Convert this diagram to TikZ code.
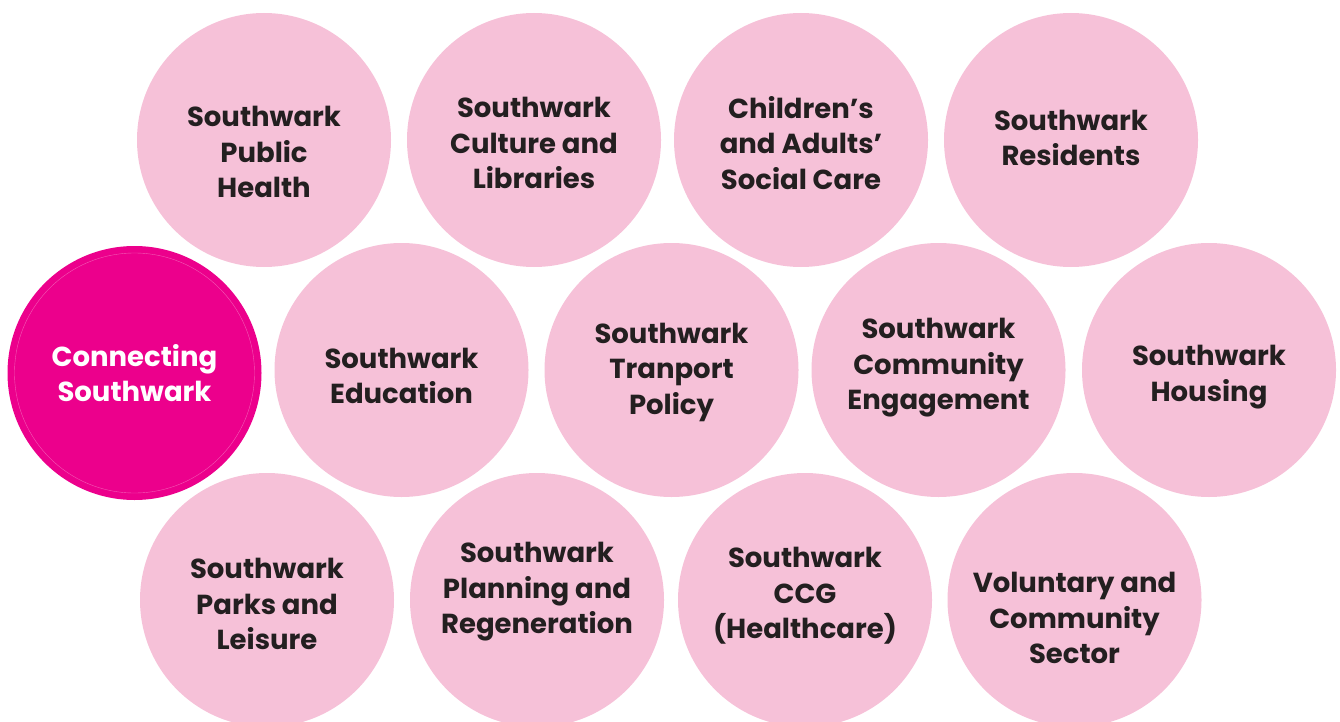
\documentclass[tikz,border=0pt]{standalone}
\usepackage{fontspec}
\setmainfont{Poppins}
\definecolor{softpink}{HTML}{F6C1D8}
\definecolor{hotpink}{HTML}{EC008C}
\definecolor{ink}{HTML}{231F20}
\begin{document}
\begin{tikzpicture}[x=1pt,y=-1pt,
  bubble/.style={circle,fill=softpink,draw=none,minimum size=254pt,inner sep=0pt},
  hub/.style={bubble,fill=hotpink},
  label/.style={align=center,text=ink,font=\fontsize{27.5}{35.5}\bfseries\selectfont,inner sep=0pt},
  hublabel/.style={label,text=white}]
\useasboundingbox (0,0) rectangle (1340,722);
% top row
\node[bubble] (ph) at (264,140) {};
\node[bubble] (cl) at (534,140) {};
\node[bubble] (sc) at (801,140) {};
\node[bubble] (re) at (1071,140) {};
% middle row
\node[hub] (cs) at (134.5,373) {};
\draw[white!35!hotpink,line width=0.4pt] (cs.center) circle[radius=120];
\node[bubble] (ed) at (401.5,370) {};
\node[bubble] (tp) at (671.5,370) {};
\node[bubble] (ce) at (938.5,370) {};
\node[bubble] (ho) at (1209,370) {};
% bottom row
\node[bubble] (pl) at (267,600) {};
\node[bubble] (pr) at (537,600) {};
\node[bubble] (cc) at (805,600) {};
\node[bubble] (vc) at (1074.5,600) {};
% labels
\node[label] (tph) at (264,152) {Southwark\\Public\\Health};
\node[label] (tcl) at (534,143) {Southwark\\Culture and\\Libraries};
\node[label] (tsc) at (801,143) {Children’s\\and Adults’\\Social Care};
\node[label] (tre) at (1071,138) {Southwark\\Residents};
\node[hublabel] (tcs) at (134.5,373) {Connecting\\Southwark};
\node[label] (ted) at (401.5,376) {Southwark\\Education};
\node[label] (ttp) at (671.5,372) {Southwark\\Tranport\\Policy};
\node[label] (tce) at (938.5,368) {Southwark\\Community\\Engagement};
\node[label] (tho) at (1209,377) {Southwark\\Housing};
\node[label] (tpl) at (267,604) {Southwark\\Parks and\\Leisure};
\node[label] (tpr) at (537,592) {Southwark\\Planning and\\Regeneration};
\node[label] (tcc) at (805,596) {Southwark\\CCG\\(Healthcare)};
\node[label] (tvc) at (1074.5,618) {Voluntary and\\Community\\Sector};
\end{tikzpicture}
\end{document}
